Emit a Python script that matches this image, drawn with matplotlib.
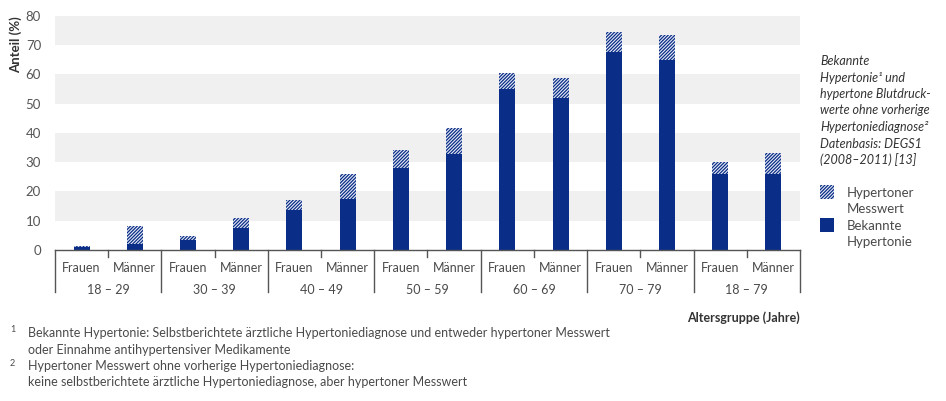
import matplotlib
matplotlib.use("Agg")
import matplotlib.pyplot as plt
import numpy as np

plt.rcParams['font.family'] = ['Lato', 'DejaVu Sans']
plt.rcParams['hatch.linewidth'] = 0.9

# Daten
geschlecht = ["Frauen", "Männer"] * 7
altersgruppen = ["18 – 29", "30 – 39", "40 – 49", "50 – 59", "60 – 69", "70 – 79", "18 – 79"]
bekannt = [1.0, 2.1, 3.5, 7.6, 13.8, 17.4, 28.0, 32.8, 55.0, 52.0, 67.7, 65.0, 26.1, 26.1]
messwert = [0.4, 6.1, 1.3, 3.3, 3.3, 8.6, 6.2, 9.0, 5.5, 6.8, 6.8, 8.6, 4.0, 7.1]

blau = '#0a2d87'
grau_text = '#4a4a4a'

fig = plt.figure(figsize=(9.46, 4.01), dpi=100)
ax = fig.add_axes([0.0581, 0.3766, 0.7876, 0.5835])

# graue Streifen
for lo in [10, 30, 50, 70]:
    ax.axhspan(lo, lo + 10, color='#f0f0f0', lw=0, zorder=0)

x = np.arange(len(bekannt))
ax.bar(x, bekannt, width=0.3, color=blau, lw=0, zorder=2)
ax.bar(x, messwert, width=0.3, bottom=bekannt, facecolor='#e8ecf6',
       edgecolor=blau, hatch='//////////', lw=0, zorder=2)

ax.set_xlim(-0.5, len(bekannt) - 0.5)
ax.set_ylim(0, 80)
ax.set_yticks(range(0, 81, 10))
ax.tick_params(axis='y', length=0, pad=10, labelsize=9.5, labelcolor='#555555')
ax.set_xticks([])
for s in ['top', 'right', 'left']:
    ax.spines[s].set_visible(False)
ax.spines['bottom'].set_color('#555555')
ax.spines['bottom'].set_linewidth(1)

# Striche unter der Achse
tr = ax.get_xaxis_transform()
for i in range(len(bekannt) + 1):
    pos = i - 0.5
    unten = -0.18 if i % 2 == 0 else -0.028
    ax.plot([pos, pos], [0, unten], transform=tr, color='#555555', lw=1, clip_on=False)

for i, g in enumerate(geschlecht):
    ax.text(i, -0.075, g, transform=tr, ha='center', va='center', fontsize=9, color=grau_text)
for j, a in enumerate(altersgruppen):
    ax.text(2 * j + 0.5, -0.17, a, transform=tr, ha='center', va='center', fontsize=9, color=grau_text)

ax.text(-0.052, 1.0, "Anteil (%)", transform=ax.transAxes, rotation=90, ha='center', va='top',
        fontsize=9.5, fontweight='bold', color='#333333')
fig.text(800 / 946, 1 - 318 / 401, "Altersgruppe (Jahre)", ha='right', va='center',
         fontsize=9, fontweight='bold', color='#333333')

# Seitentext
seitentext = ["Bekannte", "Hypertonie¹ und", "hypertone Blutdruck-", "werte ohne vorherige",
              "Hypertoniediagnose²", "Datenbasis: DEGS1", "(2008–2011) [13]"]
for k, zeile in enumerate(seitentext):
    fig.text(820 / 946, 1 - (61 + k * 16.5) / 401, zeile, ha='left', va='center',
             fontsize=9, style='italic', color='#333333')

# Legende
fig.patches.append(plt.Rectangle((820 / 946, 1 - 199 / 401), 14 / 946, 14 / 401,
                                 transform=fig.transFigure, facecolor='#e8ecf6', edgecolor=blau,
                                 hatch='//////////', lw=0))
fig.patches.append(plt.Rectangle((820 / 946, 1 - 232 / 401), 14 / 946, 14 / 401,
                                 transform=fig.transFigure, facecolor=blau, lw=0))
for txt, yy in [("Hypertoner", 193), ("Messwert", 209), ("Bekannte", 226), ("Hypertonie", 242)]:
    fig.text(847 / 946, 1 - yy / 401, txt, ha='left', va='center', fontsize=9.5, color=grau_text)

# Fußnoten
fussnoten = [("1", "Bekannte Hypertonie: Selbstberichtete ärztliche Hypertoniediagnose und entweder hypertoner Messwert", 333),
             ("", "oder Einnahme antihypertensiver Medikamente", 350),
             ("2", "Hypertoner Messwert ohne vorherige Hypertoniediagnose:", 366),
             ("", "keine selbstberichtete ärztliche Hypertoniediagnose, aber hypertoner Messwert", 382)]
for nr, txt, yy in fussnoten:
    if nr:
        fig.text(10 / 946, 1 - (yy - 3) / 401, nr, ha='left', va='center', fontsize=6.5, color=grau_text)
    fig.text(28 / 946, 1 - yy / 401, txt, ha='left', va='center', fontsize=9, color=grau_text)

fig.savefig("out.png", dpi=100)
